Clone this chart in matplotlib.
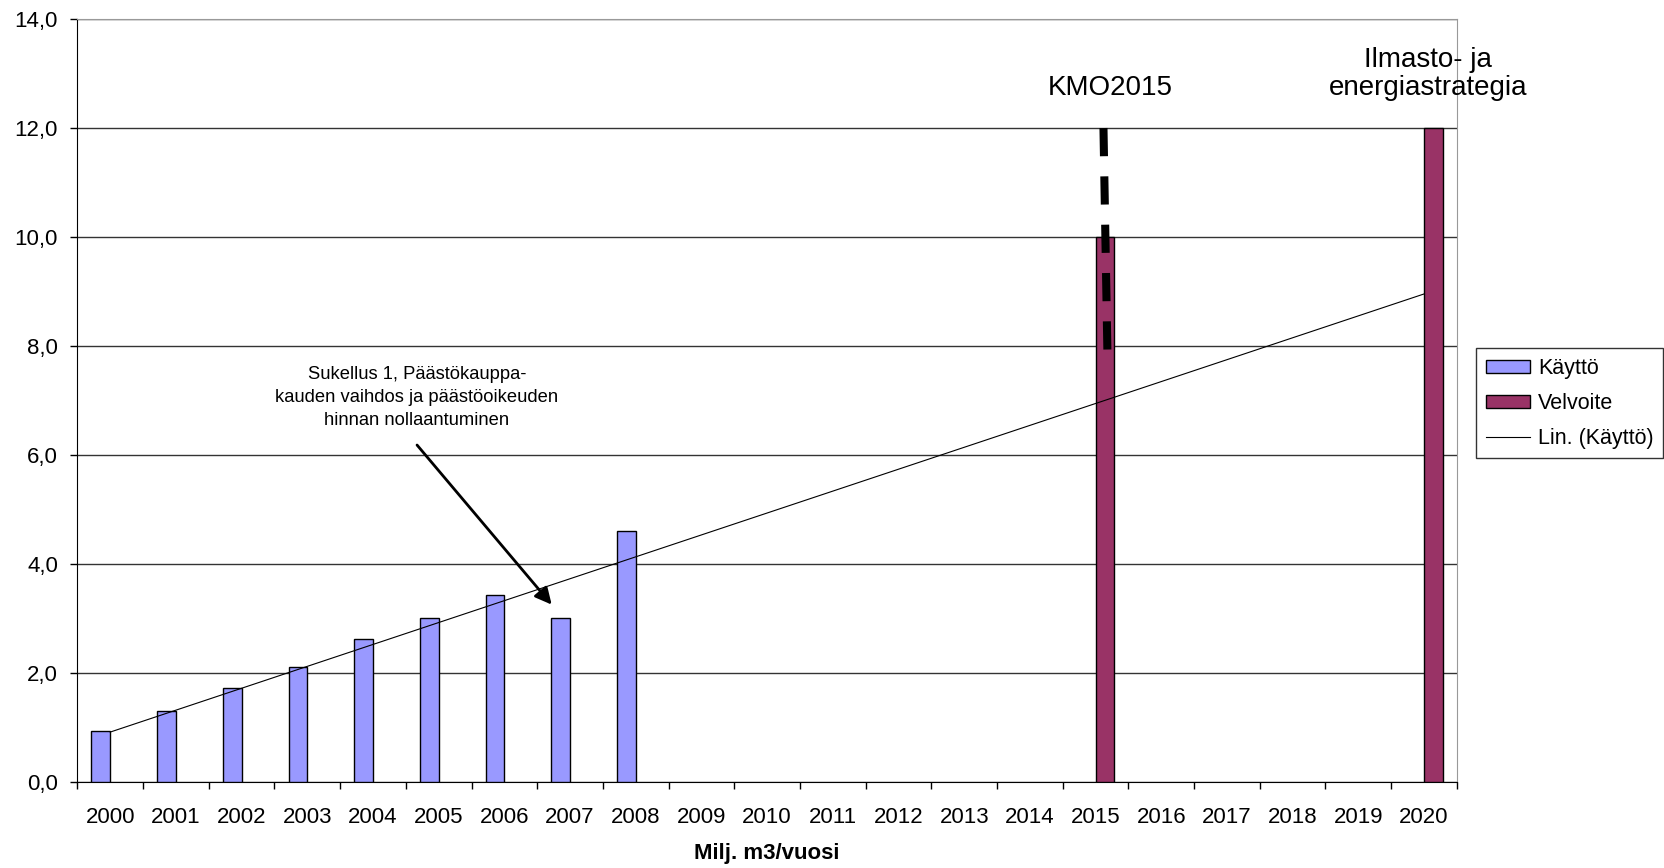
import numpy as np
import matplotlib
matplotlib.use('Agg')
import matplotlib.pyplot as plt

plt.rcParams['font.family'] = ['Liberation Sans', 'DejaVu Sans']

years = [str(y) for y in range(2000, 2021)]
kaytto = [0.93, 1.29, 1.71, 2.10, 2.62, 3.00, 3.42, 3.00, 4.60] + [np.nan] * 12
velvoite = [np.nan] * 15 + [10.0] + [np.nan] * 4 + [12.0]
y_ticks = [0, 2, 4, 6, 8, 10, 12, 14]

kmo_label = 'KMO2015'
strategy_label = 'Ilmasto- ja\nenergiastrategia'
note_label = ('Sukellus 1, Päästökauppa-\nkauden vaihdos ja päästöoikeuden\n'
              'hinnan nollaantuminen')
kmo_dash = [12.0, 7.9]

x = np.arange(len(years))
k = np.array(kaytto)
v = np.array(velvoite)
w = 0.286

fig = plt.figure(figsize=(16.65, 8.68), dpi=100)
ax = fig.add_axes([0.0465, 0.0995, 0.8285, 0.8785])

mk = ~np.isnan(k)
mv = ~np.isnan(v)
b1 = ax.bar(x[mk] - w / 2, k[mk], w, color='#9999FF', edgecolor='black',
            linewidth=1, label='Käyttö', zorder=3)
b2 = ax.bar(x[mv] + w / 2, v[mv], w, color='#993366', edgecolor='black',
            linewidth=1, label='Velvoite', zorder=3)

# linear trend (Excel style, extended to 2020)
coef = np.polyfit(x[mk], k[mk], 1)
tl, = ax.plot(x, np.polyval(coef, x), color='black', lw=0.8,
              label='Lin. (Käyttö)', zorder=4)

# thick dashed marker above 2015
i15 = years.index('2015')
ax.plot([i15 + 0.12, i15 + 0.18], kmo_dash, color='black', lw=5.8,
        linestyle=(0, (3.5, 2.5)), solid_capstyle='butt', dash_capstyle='butt',
        zorder=5)

ax.text(i15 + 0.23, 12.74, kmo_label, ha='center', va='center', fontsize=20)
ax.text(20.06, 13.0, strategy_label, ha='center', va='center', fontsize=20,
        linespacing=1.1)

i07 = years.index('2007')
ax.text(4.67, 7.05, note_label, ha='center', va='center', fontsize=13.2,
        linespacing=1.45)
ax.annotate('', xy=(i07 - 0.28, k[i07] + 0.25), xytext=(4.67, 6.18),
            arrowprops=dict(arrowstyle='-|>', lw=2, color='black',
                            mutation_scale=25, shrinkA=0, shrinkB=0))

ax.set_xlim(-0.5, len(years) - 0.5)
ax.set_ylim(0, 14)
ax.set_yticks(y_ticks)
ax.set_yticklabels([f'{t:.1f}'.replace('.', ',') for t in y_ticks], fontsize=16)
ax.set_xticks(x)
ax.set_xticklabels(years, fontsize=16)
ax.set_xticks(np.arange(-0.5, len(years)), minor=True)
ax.tick_params(axis='x', which='major', length=0, pad=18)
ax.tick_params(axis='x', which='minor', length=5, width=1, direction='out')
ax.tick_params(axis='y', length=5, width=1, direction='out', pad=9)

ax.yaxis.grid(True, color='#333333', lw=1)
ax.set_axisbelow(True)
for s in ['top', 'right']:
    ax.spines[s].set_color('#999999')
for s in ['left', 'bottom']:
    ax.spines[s].set_color('black')

ax.set_xlabel('Milj. m3/vuosi', fontsize=16, fontweight='bold', labelpad=11)

leg = ax.legend(handles=[b1, b2, tl], loc='upper left',
                bbox_to_anchor=(0.8865, 0.599), bbox_transform=fig.transFigure,
                fontsize=15.5, frameon=True, fancybox=False, shadow=False,
                handlelength=2.05, handleheight=0.55, handletextpad=0.37,
                labelspacing=0.65, borderpad=0.45, borderaxespad=0)
leg.get_frame().set_edgecolor('black')
leg.get_frame().set_linewidth(1)

fig.savefig('out.png', dpi=100)
